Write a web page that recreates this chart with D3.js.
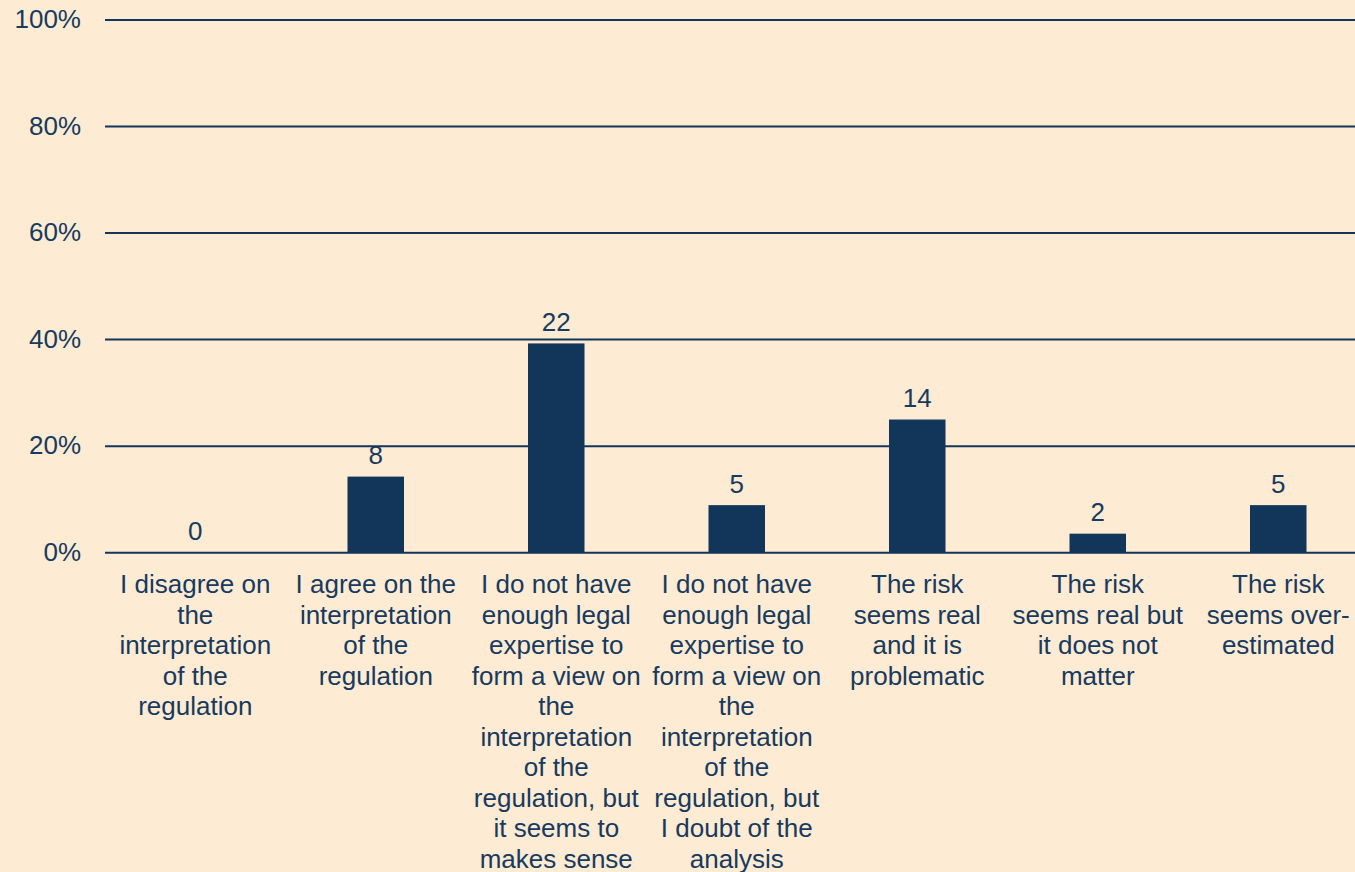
<!DOCTYPE html>
<html>
<head>
<meta charset="utf-8">
<script src="https://cdn.jsdelivr.net/npm/d3@7"></script>
<style>
  html, body { margin: 0; padding: 0; background: #FDEBD3; }
  svg { display: block; }
  text { font-family: "Liberation Sans", Arial, sans-serif; fill: #173A5E; }
</style>
</head>
<body>
<svg id="chart" width="1355" height="872"></svg>
<script>
// ---- data ----
const categories = [
  "I disagree on the interpretation of the regulation",
  "I agree on the interpretation of the regulation",
  "I do not have enough legal expertise to form a view on the interpretation of the regulation, but it seems to makes sense",
  "I do not have enough legal expertise to form a view on the interpretation of the regulation, but I doubt of the analysis",
  "The risk seems real and it is problematic",
  "The risk seems real but it does not matter",
  "The risk seems over-estimated"
];
const categoryLines = [
  ["I disagree on", "the", "interpretation", "of the", "regulation"],
  ["I agree on the", "interpretation", "of the", "regulation"],
  ["I do not have", "enough legal", "expertise to", "form a view on", "the", "interpretation", "of the", "regulation, but", "it seems to", "makes sense"],
  ["I do not have", "enough legal", "expertise to", "form a view on", "the", "interpretation", "of the", "regulation, but", "I doubt of the", "analysis"],
  ["The risk", "seems real", "and it is", "problematic"],
  ["The risk", "seems real but", "it does not", "matter"],
  ["The risk", "seems over-", "estimated"]
];
const counts = [0, 8, 22, 5, 14, 2, 5];
const yTicks = [0, 0.2, 0.4, 0.6, 0.8, 1.0];

// ---- layout ----
const total = d3.sum(counts);
const shares = counts.map(c => c / total);
const svg = d3.select("#chart");
const navy = "#12355A";
const fontSize = 25;
const stretch = 1.04;

const x = d3.scaleBand()
  .domain(d3.range(categories.length))
  .range([105, 1368.5])
  .paddingInner(0.687)
  .paddingOuter(0.3435);
const y = d3.scaleLinear().domain([0, 1]).range([552.7, 20]);

// gridlines
svg.append("g").selectAll("line")
  .data(yTicks)
  .join("line")
  .attr("x1", 105).attr("x2", 1368.5)
  .attr("y1", d => y(d)).attr("y2", d => y(d))
  .attr("stroke", navy).attr("stroke-width", 2);

// y tick labels
const fmt = d3.format(".0%");
svg.append("g").selectAll("text")
  .data(yTicks)
  .join("text")
  .attr("transform", d => `translate(81,${y(d)}) scale(${stretch},1)`)
  .attr("dy", "0.33em")
  .attr("text-anchor", "end")
  .style("font-size", fontSize + "px")
  .text(d => fmt(d));

// bars
svg.append("g").selectAll("rect")
  .data(shares)
  .join("rect")
  .attr("x", (d, i) => x(i))
  .attr("width", x.bandwidth())
  .attr("y", d => y(d))
  .attr("height", d => y(0) - y(d))
  .attr("fill", navy);

// value labels
svg.append("g").selectAll("text")
  .data(counts)
  .join("text")
  .attr("transform", (d, i) => `translate(${x(i) + x.bandwidth() / 2},${y(shares[i]) - 12.5}) scale(${stretch},1)`)
  .attr("text-anchor", "middle")
  .style("font-size", fontSize + "px")
  .text(d => d);

// category labels
const lineHeight = 30.5;
const catG = svg.append("g").selectAll("g")
  .data(categoryLines)
  .join("g");
catG.each(function(lines, i) {
  d3.select(this).selectAll("text")
    .data(lines)
    .join("text")
    .attr("transform", (l, j) => `translate(${x(i) + x.bandwidth() / 2},${y(0) + 40.6 + j * lineHeight}) scale(${stretch},1)`)
    .attr("text-anchor", "middle")
    .style("font-size", fontSize + "px")
    .text(l => l);
});
</script>
</body>
</html>
